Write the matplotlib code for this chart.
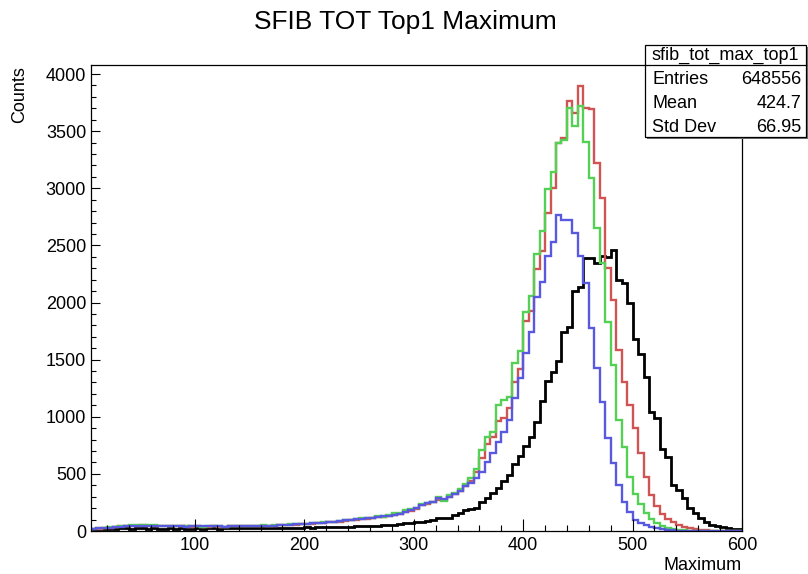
import numpy as np
import matplotlib
matplotlib.use('Agg')
import matplotlib.pyplot as plt
from matplotlib.ticker import MultipleLocator
from matplotlib.patches import Rectangle
from matplotlib.lines import Line2D

plt.rcParams['font.family'] = ['Liberation Sans', 'DejaVu Sans']

# ---- data: 119 bins of width 5 from 5 to 600 ----
bin_low = 5
bin_width = 5
n_bins = 119

red_counts = [
    18, 20, 25, 30, 35, 40, 44, 46, 48, 50, 48, 46, 45, 44, 42, 42, 40, 40, 38, 40,
    38, 38, 40, 38, 38, 40, 42, 40, 42, 45, 44, 46, 46, 48, 50, 50, 52, 55, 58, 62,
    65, 68, 72, 75, 78, 82, 88, 92, 98, 102, 108, 112, 120, 122, 128, 140, 148, 165, 175,
    190, 225, 235, 250, 275, 270, 300, 320, 350, 395, 440, 520, 640, 760, 820, 960, 990,
    1080, 1300, 1420, 1840, 1930, 2290, 2450, 2780, 3000, 3400, 3437, 3760, 3656, 3895,
    3705, 3690, 3218, 2912, 2300, 2020, 1580, 1300, 1100, 900, 680, 475, 315, 215, 150,
    105, 75, 52, 36, 26, 16, 9, 5, 3, 2, 1, 1, 0, 0]

green_counts = [
    15, 22, 28, 32, 38, 42, 48, 52, 55, 55, 52, 50, 48, 46, 45, 44, 42, 40, 42, 40,
    38, 40, 42, 40, 38, 42, 45, 42, 45, 48, 45, 50, 48, 52, 55, 52, 58, 60, 62, 65,
    68, 72, 75, 78, 82, 88, 92, 98, 105, 110, 115, 118, 130, 125, 138, 160, 158, 185, 190,
    205, 235, 242, 250, 300, 266, 319, 333, 368, 412, 464, 546, 712, 820, 864, 1107, 1150,
    1176, 1473, 1575, 1914, 2054, 2427, 2629, 2996, 3139, 3399, 3419, 3699, 3548, 3720,
    3407, 3087, 2649, 2343, 1832, 1453, 972, 738, 475, 320, 240, 160, 105, 72, 45,
    28, 16, 9, 6, 4, 3, 2, 1, 1, 0, 0, 0, 0, 0]

blue_counts = [
    20, 22, 25, 30, 35, 38, 42, 44, 45, 46, 45, 44, 42, 42, 40, 40, 40, 38, 40, 42,
    40, 40, 42, 40, 38, 40, 42, 42, 44, 45, 45, 46, 48, 48, 50, 52, 55, 58, 60, 62,
    66, 70, 74, 78, 82, 88, 92, 98, 104, 108, 112, 118, 122, 128, 132, 142, 150, 165, 180,
    200, 228, 245, 257, 286, 280, 300, 320, 350, 390, 420, 460, 520, 600, 680, 780, 870,
    971, 1161, 1335, 1555, 1744, 2046, 2182, 2404, 2532, 2766, 2722, 2722, 2605, 2404,
    2168, 1774, 1424, 1132, 811, 592, 402, 257, 169, 96, 67, 52, 38, 25, 16,
    10, 6, 4, 3, 2, 1, 1, 0, 0, 0, 0, 0, 0, 0]

black_counts = [
    12, 15, 18, 20, 20, 22, 22, 20, 22, 22, 20, 22, 20, 20, 22, 20, 22, 20, 20, 22,
    20, 22, 22, 20, 22, 22, 24, 22, 24, 25, 24, 26, 25, 28, 26, 28, 30, 28, 30, 32,
    30, 32, 34, 32, 35, 36, 35, 38, 40, 42, 40, 45, 48, 50, 55, 52, 60, 68, 72,
    80, 82, 85, 95, 111, 111, 115, 140, 161, 184, 190, 199, 257, 286, 329, 373, 441,
    491, 587, 660, 746, 822, 957, 1140, 1316, 1394, 1490, 1744, 1788, 2100, 2140,
    2390, 2390, 2345, 2410, 2400, 2460, 2200, 2170, 2000, 1680, 1545, 1350, 1044, 990, 715,
    650, 403, 359, 286, 204, 155, 111, 82, 52, 44, 38, 29, 17, 15]

stats_name = "sfib_tot_max_top1"
stats_labels = ["Entries", "Mean", "Std Dev"]
stats_values = ["648556", "424.7", "66.95"]
title = "SFIB TOT Top1 Maximum"
xlabel = "Maximum"
ylabel = "Counts"

edges = bin_low + bin_width * np.arange(n_bins + 1)

W, H = 808, 574
fig = plt.figure(figsize=(W / 100, H / 100), dpi=100)
ax = fig.add_axes([91 / W, 1 - 531 / H, (742 - 91) / W, (531 - 65) / H])

c_red = (0.82, 0.33, 0.33)
c_green = (0.33, 0.82, 0.33)
c_blue = (0.35, 0.35, 0.88)

ax.stairs(black_counts, edges, color='black', lw=2.0)
ax.stairs(red_counts, edges, color=c_red, lw=1.7)
ax.stairs(green_counts, edges, color=c_green, lw=1.7)
ax.stairs(blue_counts, edges, color=c_blue, lw=1.7)

ax.set_xlim(5, 600)
ax.set_ylim(0, 4079)

ax.xaxis.set_major_locator(MultipleLocator(100))
ax.xaxis.set_minor_locator(MultipleLocator(20))
ax.yaxis.set_major_locator(MultipleLocator(500))
ax.yaxis.set_minor_locator(MultipleLocator(100))
ax.tick_params(which='both', direction='in', top=False, right=False, width=0.8)
ax.tick_params(axis='x', which='major', length=8.6, pad=4.5, labelsize=13)
ax.tick_params(axis='x', which='minor', length=4.3)
ax.tick_params(axis='y', which='major', length=6.5, pad=3.5, labelsize=13)
ax.tick_params(axis='y', which='minor', length=3.6)
for s in ax.spines.values():
    s.set_linewidth(0.9)

fig.text(405 / W, 1 - 22 / H, title, ha='center', va='center', size=19)
fig.text(742 / W, 1 - 565 / H, xlabel, ha='right', va='center', size=13)
fig.text(20 / W, 1 - 66 / H, ylabel, rotation=90, ha='center', va='top', size=13)

# stats box
bx0, bx1, by0, by1 = 645, 806, 45, 137
shadow = Rectangle(((bx0 + 2) / W, 1 - (by1 + 2) / H), (bx1 - bx0) / W, (by1 - by0) / H,
                   transform=fig.transFigure, facecolor=(0.45, 0.45, 0.45), edgecolor='none', zorder=3)
fig.add_artist(shadow)
box = Rectangle((bx0 / W, 1 - by1 / H), (bx1 - bx0) / W, (by1 - by0) / H,
                transform=fig.transFigure, facecolor='white', edgecolor='black', lw=0.9, zorder=4)
fig.add_artist(box)
fig.add_artist(Line2D([bx0 / W, bx1 / W], [1 - 65 / H, 1 - 65 / H], transform=fig.transFigure,
                      color='black', lw=0.9, zorder=5))
fig.text((bx0 + bx1) / 2 / W, 1 - 55 / H, stats_name, ha='center', va='center', size=13, zorder=6)
for i, (lab, val) in enumerate(zip(stats_labels, stats_values)):
    y = 1 - (79 + 24 * i) / H
    fig.text(652 / W, y, lab, ha='left', va='center', size=13, zorder=6)
    fig.text(801 / W, y, val, ha='right', va='center', size=13, zorder=6)

fig.savefig('out.png', dpi=100)
